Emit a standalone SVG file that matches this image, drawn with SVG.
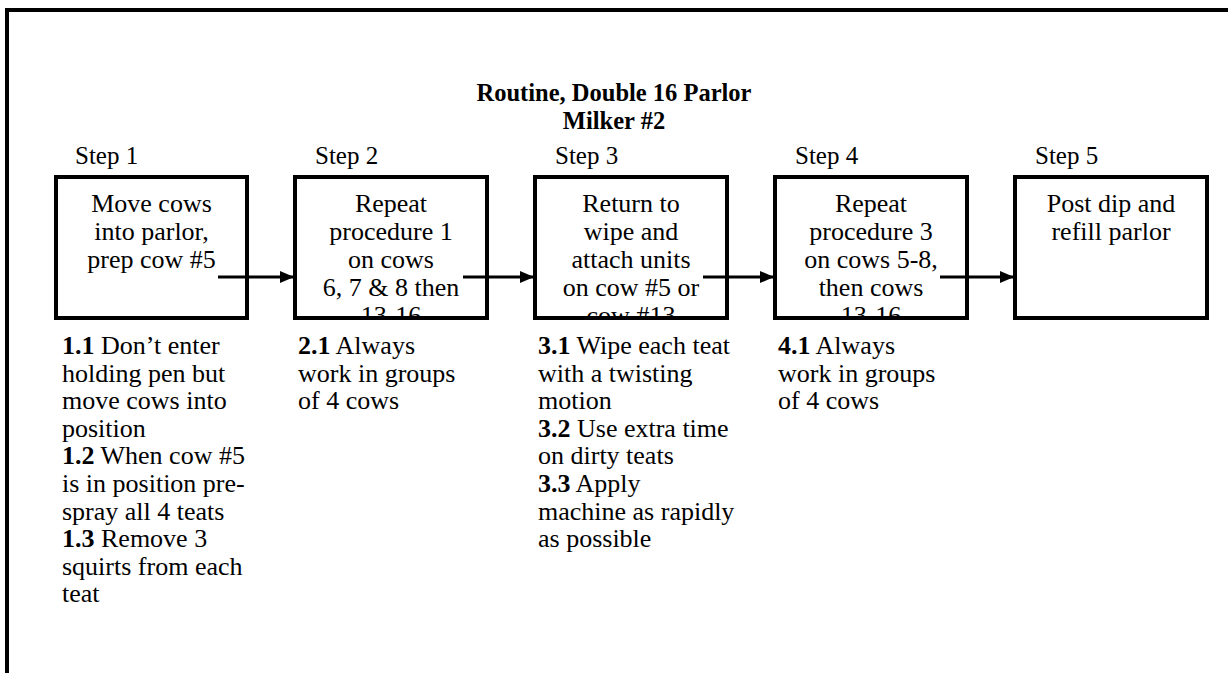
<svg xmlns="http://www.w3.org/2000/svg" width="1228" height="673" viewBox="0 0 1228 673">
  <style>
    text { font-family: "Liberation Serif", "Times New Roman", serif; fill: #000; }
    .title { font-size: 24.5px; font-weight: bold; text-anchor: middle; }
    .step { font-size: 25px; }
    .box { fill: #fff; stroke: #000; stroke-width: 4; }
    .inbox { font-size: 26px; text-anchor: middle; }
    .note { font-size: 26px; }
    .b { font-weight: bold; }
    .conn { stroke: #000; stroke-width: 3; fill: none; marker-end: url(#arrow); }
  </style>
  <defs>
    <marker id="arrow" markerWidth="14" markerHeight="12" refX="14" refY="6" orient="auto" markerUnits="userSpaceOnUse">
      <path d="M0,0 L14,6 L0,12 Z" fill="#000"/>
    </marker>
    <clipPath id="clip1"><rect x="58" y="179" width="187" height="137"/></clipPath>
    <clipPath id="clip2"><rect x="297" y="179" width="188" height="137"/></clipPath>
    <clipPath id="clip3"><rect x="537" y="179" width="188" height="137"/></clipPath>
    <clipPath id="clip4"><rect x="777" y="179" width="188" height="137"/></clipPath>
    <clipPath id="clip5"><rect x="1017" y="179" width="188" height="137"/></clipPath>
  </defs>

  <!-- page frame (top and left rules) -->
  <g id="frame">
    <line x1="5" y1="10" x2="1228" y2="10" stroke="#000" stroke-width="4"/>
    <line x1="7" y1="8" x2="7" y2="673" stroke="#000" stroke-width="4"/>
  </g>

  <g id="title">
    <text class="title" x="614" y="101">Routine, Double 16 Parlor</text>
    <text class="title" x="614" y="129">Milker #2</text>
  </g>

  <g id="step1">
    <text class="step" x="75" y="164">Step 1</text>
    <rect class="box" x="56" y="177" width="191" height="141"/>
    <g clip-path="url(#clip1)">
      <text class="inbox" x="151.5" y="212">Move cows</text>
      <text class="inbox" x="151.5" y="240">into parlor,</text>
      <text class="inbox" x="151.5" y="268">prep cow #5</text>
    </g>
    <text class="note" x="62" y="354"><tspan class="b">1.1</tspan> Don’t enter</text>
    <text class="note" x="62" y="381.6">holding pen but</text>
    <text class="note" x="62" y="409.2">move cows into</text>
    <text class="note" x="62" y="436.8">position</text>
    <text class="note" x="62" y="464.4"><tspan class="b">1.2</tspan> When cow #5</text>
    <text class="note" x="62" y="492">is in position pre-</text>
    <text class="note" x="62" y="519.6">spray all 4 teats</text>
    <text class="note" x="62" y="547.2"><tspan class="b">1.3</tspan> Remove 3</text>
    <text class="note" x="62" y="574.8">squirts from each</text>
    <text class="note" x="62" y="602.4">teat</text>
  </g>

  <g id="step2">
    <text class="step" x="315" y="164">Step 2</text>
    <rect class="box" x="295" y="177" width="192" height="141"/>
    <g clip-path="url(#clip2)">
      <text class="inbox" x="391" y="212">Repeat</text>
      <text class="inbox" x="391" y="240">procedure 1</text>
      <text class="inbox" x="391" y="268">on cows</text>
      <text class="inbox" x="391" y="296">6, 7 &amp; 8 then</text>
      <text class="inbox" x="391" y="324">13-16</text>
    </g>
    <text class="note" x="298" y="354"><tspan class="b">2.1</tspan> Always</text>
    <text class="note" x="298" y="381.6">work in groups</text>
    <text class="note" x="298" y="409.2">of 4 cows</text>
  </g>

  <g id="step3">
    <text class="step" x="555" y="164">Step 3</text>
    <rect class="box" x="535" y="177" width="192" height="141"/>
    <g clip-path="url(#clip3)">
      <text class="inbox" x="631" y="212">Return to</text>
      <text class="inbox" x="631" y="240">wipe and</text>
      <text class="inbox" x="631" y="268">attach units</text>
      <text class="inbox" x="631" y="296">on cow #5 or</text>
      <text class="inbox" x="631" y="324">cow #13</text>
    </g>
    <text class="note" x="538" y="354"><tspan class="b">3.1</tspan> Wipe each teat</text>
    <text class="note" x="538" y="381.6">with a twisting</text>
    <text class="note" x="538" y="409.2">motion</text>
    <text class="note" x="538" y="436.8"><tspan class="b">3.2</tspan> Use extra time</text>
    <text class="note" x="538" y="464.4">on dirty teats</text>
    <text class="note" x="538" y="492"><tspan class="b">3.3</tspan> Apply</text>
    <text class="note" x="538" y="519.6">machine as rapidly</text>
    <text class="note" x="538" y="547.2">as possible</text>
  </g>

  <g id="step4">
    <text class="step" x="795" y="164">Step 4</text>
    <rect class="box" x="775" y="177" width="192" height="141"/>
    <g clip-path="url(#clip4)">
      <text class="inbox" x="871" y="212">Repeat</text>
      <text class="inbox" x="871" y="240">procedure 3</text>
      <text class="inbox" x="871" y="268">on cows 5-8,</text>
      <text class="inbox" x="871" y="296">then cows</text>
      <text class="inbox" x="871" y="324">13-16</text>
    </g>
    <text class="note" x="778" y="354"><tspan class="b">4.1</tspan> Always</text>
    <text class="note" x="778" y="381.6">work in groups</text>
    <text class="note" x="778" y="409.2">of 4 cows</text>
  </g>

  <g id="step5">
    <text class="step" x="1035" y="164">Step 5</text>
    <rect class="box" x="1015" y="177" width="192" height="141"/>
    <g clip-path="url(#clip5)">
      <text class="inbox" x="1111" y="212">Post dip and</text>
      <text class="inbox" x="1111" y="240">refill parlor</text>
    </g>
  </g>

  <!-- connectors between step boxes -->
  <g id="connectors">
    <line class="conn" x1="218" y1="277" x2="294" y2="277"/>
    <line class="conn" x1="463" y1="277" x2="534" y2="277"/>
    <line class="conn" x1="703" y1="277" x2="774" y2="277"/>
    <line class="conn" x1="940" y1="277" x2="1014" y2="277"/>
  </g>
</svg>
